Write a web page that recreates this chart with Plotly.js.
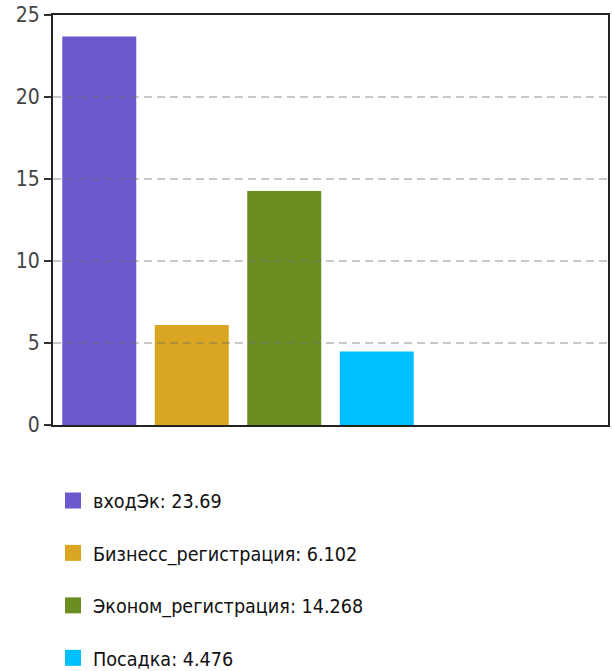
<!DOCTYPE html>
<html><head><meta charset="utf-8">
<script src="https://cdn.plot.ly/plotly-3.0.1.min.js"></script>
<style>html,body{margin:0;padding:0;background:#fff}#chart{width:613px;height:671px}</style>
</head><body><div id="chart"></div>
<script>
var categories = ["входЭк", "Бизнесс_регистрация", "Эконом_регистрация", "Посадка"];
var values = [23.69, 6.102, 14.268, 4.476];
var colors = ["#6A5ACD", "#DAA520", "#6B8E23", "#00BFFF"];
var yTicks = [0, 5, 10, 15, 20, 25];

var FONT = "'DejaVu Sans Condensed', sans-serif";
var traces = [];
categories.forEach(function (c, i) {
  traces.push({
    type: "bar", x: [i], y: [values[i]], width: 0.8,
    showlegend: false,
    marker: { color: colors[i], line: { width: 0 } },
    hoverinfo: "none"
  });
});
categories.forEach(function (c, i) {
  traces.push({
    type: "scatter", mode: "markers", x: [null], y: [null],
    name: c + ": " + values[i], legendgroup: "g" + i,
    marker: { symbol: "square", size: 16, color: colors[i] },
    hoverinfo: "none"
  });
});

var shapes = yTicks.filter(function (v) { return v > 0 && v < 25; }).map(function (v) {
  return {
    type: "line", xref: "paper", yref: "y", x0: 0, x1: 1, y0: v, y1: v,
    layer: "above", line: { color: "rgba(110,110,110,0.38)", width: 2, dash: "8px,5px" }
  };
});

var layout = {
  width: 613, height: 671,
  margin: { l: 53, r: 5, t: 15, b: 246, autoexpand: false },
  paper_bgcolor: "#fff", plot_bgcolor: "#fff",
  barmode: "overlay",
  showlegend: true,
  shapes: shapes,
  legend: {
    orientation: "v", x: 0.0, xanchor: "left", y: -0.137, yanchor: "top",
    traceorder: "grouped", tracegroupgap: 24,
    font: { family: FONT, size: 19.6, color: "#111" },
    itemwidth: 30
  },
  xaxis: {
    range: [-0.5, 5.5], showticklabels: false, ticks: "", showgrid: false,
    zeroline: false, showline: true, linecolor: "#222", linewidth: 2, mirror: true,
    fixedrange: true
  },
  yaxis: {
    range: [0, 25], tickvals: yTicks, ticktext: yTicks.map(String),
    ticks: "outside", ticklen: 7, tickwidth: 2, tickcolor: "#333",
    showgrid: false,
    zeroline: false, showline: true, linecolor: "#222", linewidth: 2, mirror: true,
    tickfont: { family: FONT, size: 21, color: "#444" },
    fixedrange: true
  }
};
Plotly.newPlot("chart", traces, layout, { displayModeBar: false, staticPlot: true });
</script></body></html>
